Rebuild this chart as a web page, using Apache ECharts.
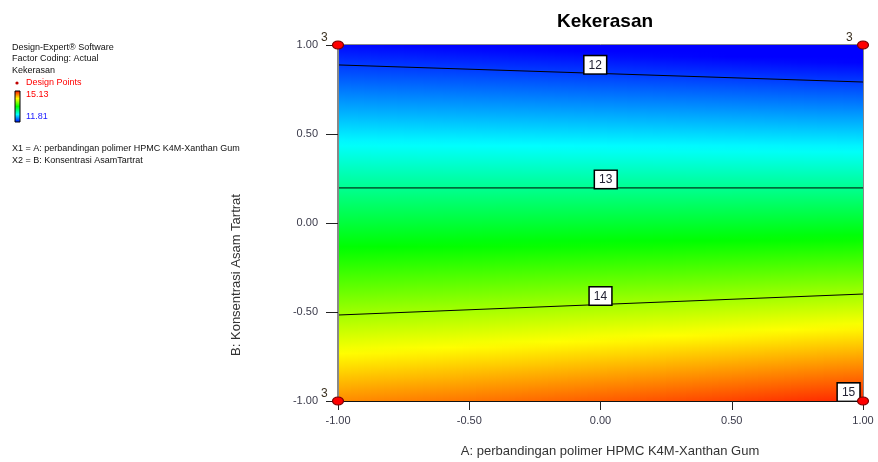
<!DOCTYPE html>
<html>
<head>
<meta charset="utf-8">
<script src="https://cdn.jsdelivr.net/npm/echarts@6/dist/echarts.min.js"></script>
<style>
  html, body { margin: 0; padding: 0; background: #fff; }
  #chart { width: 878px; height: 462px; }
</style>
</head>
<body>
<div id="chart"></div>
<script>
// Response: Kekerasan; factors A and B in coded units (-1 .. 1)
const contourLevels = [12, 13, 14, 15];
// each contour line as a straight segment [[A, B], [A, B]]
const contourLines = [
  [[-1, 0.888], [1, 0.792]],
  [[-1, 0.197], [1, 0.197]],
  [[-1, -0.517], [1, -0.399]],
  [[0.93, -1], [1, -0.99]]
];
const designPoints = [[-1, 1], [1, 1], [-1, -1], [1, -1]];
const designReplicates = [3, 3, 3, 3];
const colorRange = [11.81, 15.13];
const axisTicks = [-1, -0.5, 0, 0.5, 1];

// where along A each contour label sits
const labelAt = [-0.02, 0.02, 0.0, 0.945];

const FONT = 'Liberation Sans, Arial, sans-serif';

// B of a straight contour segment at a given A
function lineB(seg, a) {
  const [p, q] = seg;
  return p[1] + (q[1] - p[1]) * (a - p[0]) / (q[0] - p[0]);
}

// blue - cyan - green - yellow - red ramp over the response range
const rampStops = [[0, 0, 255], [0, 255, 255], [0, 255, 0], [255, 255, 0], [255, 0, 0]];
function rampColor(k) {
  let t = (k - colorRange[0]) / (colorRange[1] - colorRange[0]);
  t = Math.max(0, Math.min(1, t));
  const s = t * (rampStops.length - 1);
  const i = Math.min(rampStops.length - 2, Math.floor(s));
  const f = s - i;
  const c = rampStops[i].map((v, j) => Math.round(v + (rampStops[i + 1][j] - v) * f));
  return 'rgb(' + c.join(',') + ')';
}

function valueAtY(knots, y) {
  for (let i = 0; i < knots.length - 1; i++) {
    const [y0, k0] = knots[i], [y1, k1] = knots[i + 1];
    if (y <= y1 || i === knots.length - 2) return k0 + (k1 - k0) * (y - y0) / (y1 - y0);
  }
}

// shaded response field, painted in thin vertical strips between the contour lines
function renderField(params, api) {
  const cs = params.coordSys;
  const yTop = cs.y, yBot = cs.y + cs.height;
  const children = [];
  const N = 80;
  for (let i = 0; i < N; i++) {
    const a0 = -1 + 2 * i / N, a1 = -1 + 2 * (i + 1) / N, am = (a0 + a1) / 2;
    const x0 = api.coord([a0, 0])[0], x1 = api.coord([a1, 0])[0];
    const knots = [];
    for (let j = 0; j < 3; j++) {
      knots.push([api.coord([am, lineB(contourLines[j], am)])[1], contourLevels[j]]);
    }
    const kTop = knots[0][1] - (knots[0][0] - yTop) * (knots[1][1] - knots[0][1]) / (knots[1][0] - knots[0][0]);
    const kBot = knots[2][1] + (yBot - knots[2][0]) * (knots[2][1] - knots[1][1]) / (knots[2][0] - knots[1][0]);
    const pts = [[yTop, kTop]].concat(knots, [[yBot, kBot]]);
    const stops = [];
    const M = 60;
    for (let s = 0; s <= M; s++) {
      const y = yTop + (yBot - yTop) * s / M;
      stops.push({ offset: s / M, color: rampColor(valueAtY(pts, y)) });
    }
    children.push({
      type: 'rect',
      shape: { x: x0, y: yTop, width: x1 - x0 + 1, height: yBot - yTop },
      style: { fill: { type: 'linear', x: 0, y: 0, x2: 0, y2: 1, colorStops: stops } }
    });
  }
  return { type: 'group', children: children, silent: true };
}

const chart = echarts.init(document.getElementById('chart'), null, { renderer: 'canvas' });

const lineSeries = contourLines.map((seg) => ({
  type: 'line',
  data: seg,
  symbol: 'none',
  silent: true,
  animation: false,
  z: 3,
  lineStyle: { color: '#000', width: 1 }
}));

const labelPoints = contourLevels.map((lv, i) => ({
  value: [labelAt[i], lineB(contourLines[i], labelAt[i])],
  level: lv
}));

const designData = designPoints.map((p, i) => ({ value: p, n: designReplicates[i] }));

const option = {
  animation: false,
  title: {
    text: 'Kekerasan',
    left: 600, top: 7,
    textAlign: 'center',
    textStyle: { fontFamily: FONT, fontSize: 19, fontWeight: 'bold', color: '#000' }
  },
  grid: {
    left: 338, right: 15, top: 45, bottom: 61,
    show: true, borderColor: '#111', borderWidth: 1, backgroundColor: 'transparent'
  },
  xAxis: {
    type: 'value', min: axisTicks[0], max: axisTicks[axisTicks.length - 1], interval: axisTicks[1] - axisTicks[0],
    z: 10,
    splitLine: { show: false },
    axisLine: { show: true, onZero: false, lineStyle: { color: '#111' } },
    axisTick: { show: true, length: 9, lineStyle: { color: '#222' } },
    axisLabel: { margin: 14, fontFamily: FONT, fontSize: 11, color: '#3a3a4a', formatter: (v) => v.toFixed(2) }
  },
  yAxis: {
    type: 'value', min: axisTicks[0], max: axisTicks[axisTicks.length - 1], interval: axisTicks[1] - axisTicks[0],
    z: 10,
    splitLine: { show: false },
    axisLine: { show: true, onZero: false, lineStyle: { color: '#888' } },
    axisTick: { show: true, length: 12, lineStyle: { color: '#222' } },
    axisLabel: { margin: 20, fontFamily: FONT, fontSize: 11, color: '#3a3a4a', formatter: (v) => v.toFixed(2) }
  },
  graphic: [
    { type: 'text', left: 12, top: 43, style: { text: 'Design-Expert® Software', font: '9px ' + FONT, fill: '#111' } },
    { type: 'text', left: 12, top: 54, style: { text: 'Factor Coding: Actual', font: '9px ' + FONT, fill: '#111' } },
    { type: 'text', left: 12, top: 66, style: { text: 'Kekerasan', font: '9px ' + FONT, fill: '#111' } },
    { type: 'circle', shape: { cx: 17, cy: 83, r: 1.6 }, style: { fill: '#c00000' } },
    { type: 'text', left: 26, top: 78, style: { text: 'Design Points', font: '9px ' + FONT, fill: '#ff0000' } },
    {
      type: 'rect', shape: { x: 15, y: 91, width: 5, height: 31 },
      style: {
        stroke: '#000', lineWidth: 1,
        fill: { type: 'linear', x: 0, y: 0, x2: 0, y2: 1, colorStops: [
          { offset: 0, color: '#ff0000' }, { offset: 0.25, color: '#ffff00' },
          { offset: 0.5, color: '#00ff00' }, { offset: 0.75, color: '#00ffff' }, { offset: 1, color: '#0000ff' }
        ] }
      }
    },
    { type: 'text', left: 26, top: 90, style: { text: colorRange[1].toFixed(2), font: '9px ' + FONT, fill: '#ff0000' } },
    { type: 'text', left: 26, top: 112, style: { text: colorRange[0].toFixed(2), font: '9px ' + FONT, fill: '#2020ff' } },
    { type: 'text', left: 12, top: 144, style: { text: 'X1 = A: perbandingan polimer HPMC K4M-Xanthan Gum', font: '9px ' + FONT, fill: '#111' } },
    { type: 'text', left: 12, top: 156, style: { text: 'X2 = B: Konsentrasi AsamTartrat', font: '9px ' + FONT, fill: '#111' } },
    {
      type: 'text', x: 610, y: 451,
      style: { text: 'A: perbandingan polimer HPMC K4M-Xanthan Gum', font: '13px ' + FONT, fill: '#333', align: 'center', verticalAlign: 'middle' }
    },
    {
      type: 'text', x: 236, y: 275, rotation: Math.PI / 2,
      style: { text: 'B: Konsentrasi Asam Tartrat', font: '13px ' + FONT, fill: '#333', align: 'center', verticalAlign: 'middle' }
    }
  ],
  series: [
    {
      type: 'custom',
      renderItem: renderField,
      data: [[0, 0]],
      clip: true,
      silent: true,
      z: 1
    }
  ].concat(lineSeries, [
    // replicate counts beside the design points (drawn under the contour labels)
    {
      type: 'scatter',
      data: designData,
      symbolSize: 0,
      z: 6,
      silent: true,
      itemStyle: { opacity: 1 },
      label: {
        show: true, position: [-17, -13],
        formatter: (p) => String(p.data.n),
        fontFamily: FONT, fontSize: 12, color: '#3a3020'
      }
    },
    {
      type: 'scatter',
      data: labelPoints,
      symbolSize: 0,
      z: 8,
      silent: true,
      itemStyle: { opacity: 1 },
      label: {
        show: true, position: 'top', distance: 0,
        formatter: (p) => String(p.data.level),
        fontFamily: FONT, fontSize: 12, color: '#223',
        backgroundColor: '#ffffff', borderColor: '#000', borderWidth: 1.5,
        padding: [3, 4, 2, 4]
      }
    },
    // design point markers
    {
      type: 'scatter',
      data: designData,
      symbol: 'circle',
      symbolSize: [11, 8],
      z: 12,
      itemStyle: { color: '#ff0000', borderColor: '#7a0000', borderWidth: 1, opacity: 1 }
    }
  ])
};

chart.setOption(option);
</script>
</body>
</html>
